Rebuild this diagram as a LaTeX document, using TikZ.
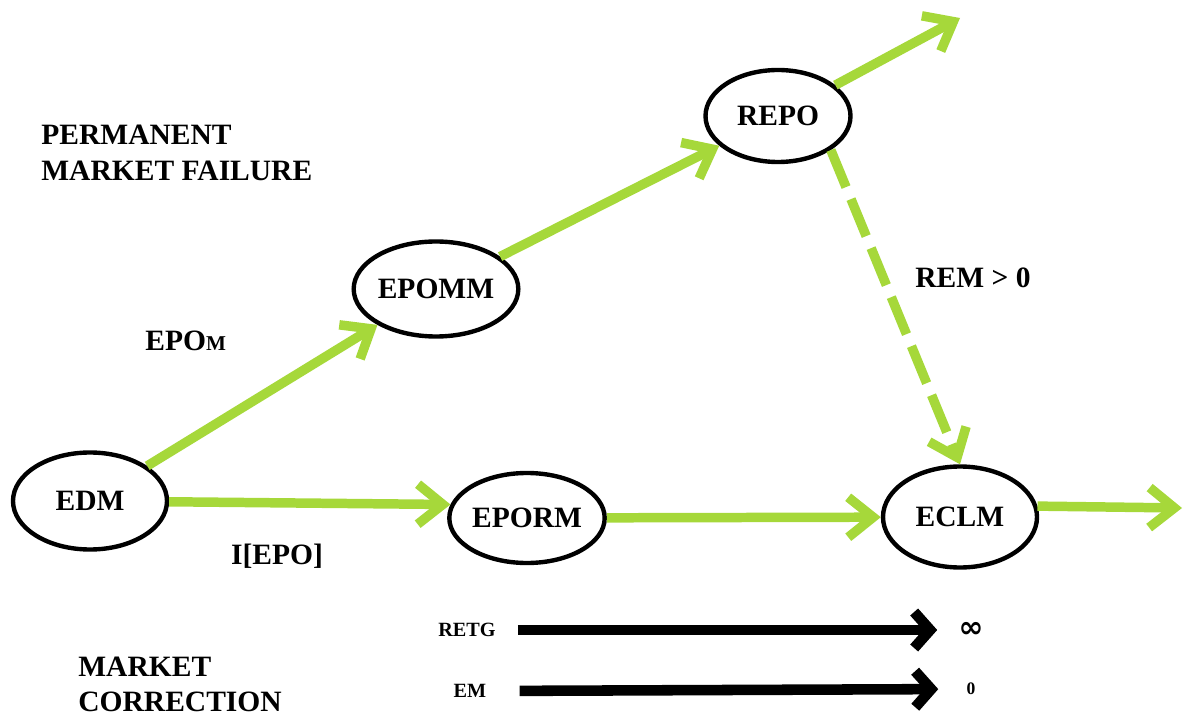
\documentclass[tikz,border=0pt]{standalone}
\usepackage{fontspec}
\setmainfont{Liberation Serif}
\newfontfamily\symbfont{DejaVu Sans}
\usetikzlibrary{arrows.meta, shapes.geometric}

\definecolor{FlowColor}{RGB}{166,216,58}

\begin{document}
\begin{tikzpicture}[
		market/.style={ellipse, draw, line width=2.5pt, inner sep=0pt, font=\fontsize{16.8}{20.5}\selectfont\bfseries},
		label/.style={inner sep=0pt, font=\fontsize{16.8}{20.5}\selectfont\bfseries},
		small/.style={inner sep=0pt, font=\fontsize{11.5}{13}\selectfont\bfseries},
		flow/.style={draw=FlowColor, line width=5.4pt, -{Straight Barb[length=0.5cm, width=0.8cm]}},
		limit/.style={line width=6pt, -{Straight Barb[length=0.32cm, width=0.72cm]}}
	]
	\useasboundingbox (0, 0) rectangle (23.7, 14.34);

	% Ellipses
	\node[market, minimum width=3.08cm, minimum height=1.94cm] (edm) at (1.8, 4.32) {EDM};
	\node[market, minimum width=2.94cm, minimum height=1.9cm] (epomm) at (8.72, 8.56) {EPOMM};
	\node[market, minimum width=2.9cm, minimum height=1.84cm] (repo) at (15.56, 12.02) {REPO};
	\node[market, minimum width=3.1cm, minimum height=1.8cm] (eporm) at (10.54, 3.98) {EPORM};
	\node[market, minimum width=3.08cm, minimum height=2.02cm] (eclm) at (19.2, 4.0) {ECLM};
	\coordinate (repoout) at (19.2, 13.98);
	\coordinate (eclmout) at (23.64, 4.18);

	% Labels
	\node[label, align=left, anchor=north west] (failure) at (0.82, 11.84) {PERMANENT\\MARKET FAILURE};
	\node[label, align=left, anchor=north west, font=\fontsize{16.8}{19.5}\selectfont\bfseries] (correction) at (1.56, 1.2) {MARKET\\CORRECTION};
	\node[label, anchor=base west] (epom) at (2.9, 7.32) {EPO{\fontsize{12}{14}\selectfont M}};
	\node[label, anchor=base] (iepo) at (5.54, 3.06) {I[EPO]};
	\node[label, anchor=base west] (rem) at (18.3, 8.58) {REM > 0};

	% Arrows
	\draw[flow] (edm) -- (epomm);
	\draw[flow] (epomm) -- (repo);
	\draw[flow] (repo) -- (repoout);
	\draw[flow, dash pattern=on 0.8cm off 0.26cm] (repo.south east) -- (eclm.north);
	\draw[flow] (edm) -- (eporm.170);
	\draw[flow] (eporm) -- (eclm);
	\draw[flow] (eclm.8) -- (eclmout);

	% Limits
	\node[small] (retg) at (9.34, 1.74) {RETG};
	\node[small] (em) at (9.4, 0.52) {EM};
	\node[inner sep=0pt, font=\symbfont\fontsize{17}{20}\selectfont\bfseries] (infty) at (19.42, 1.74) {∞};
	\node[inner sep=0pt, font=\fontsize{10}{12}\selectfont\bfseries] (zero) at (19.42, 0.56) {0};
	\draw[limit, shorten <= 0.44cm, shorten >= 0.42cm] (retg.east) -- (infty.west);
	\draw[limit, shorten <= 0.66cm, shorten >= 0.56cm] (em.east) -- (zero.west);


\end{tikzpicture}
\end{document}
